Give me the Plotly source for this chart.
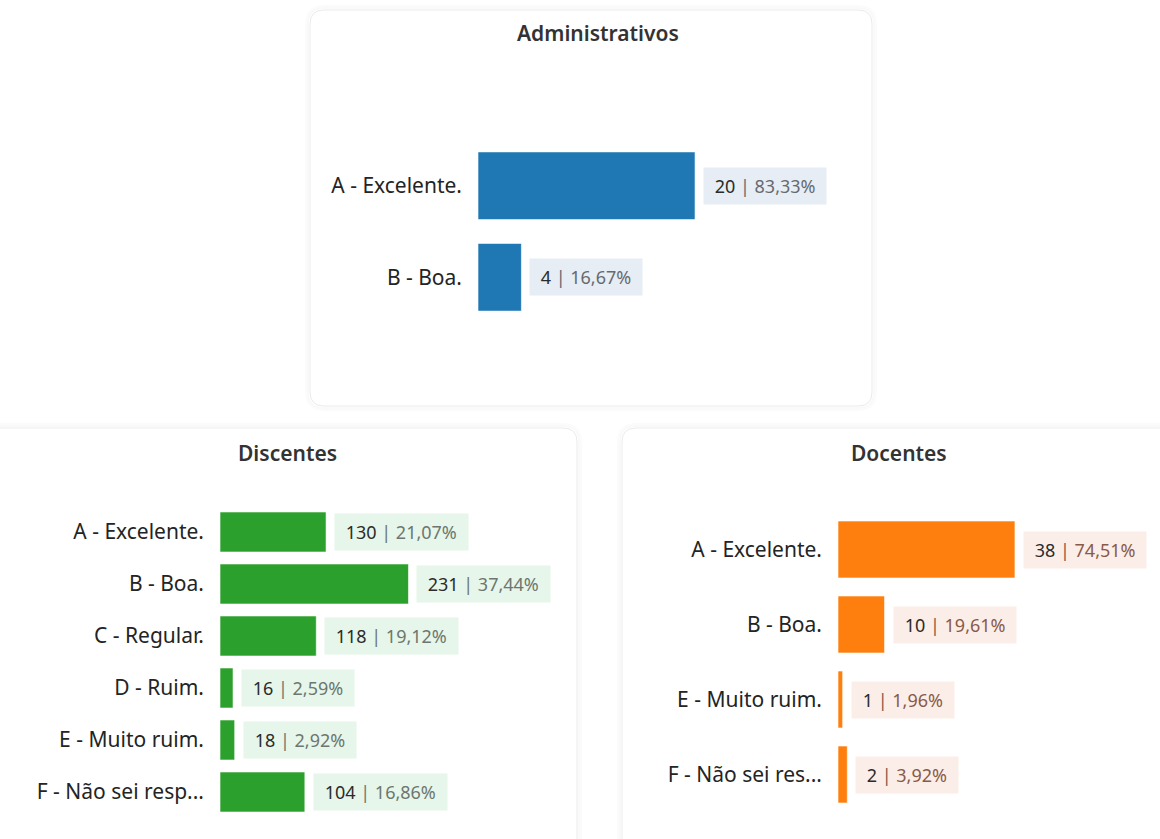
import plotly.graph_objects as go

W, H = 1160, 839
FONT = "Segoe UI, Noto Sans, sans-serif"

# data
admin_labels = ["A - Excelente.", "B - Boa."]
admin_counts = [20, 4]
admin_pcts = [83.33, 16.67]

disc_labels = ["A - Excelente.", "B - Boa.", "C - Regular.", "D - Ruim.", "E - Muito ruim.", "F - Não sei resp..."]
disc_counts = [130, 231, 118, 16, 18, 104]
disc_pcts = [21.07, 37.44, 19.12, 2.59, 2.92, 16.86]

doc_labels = ["A - Excelente.", "B - Boa.", "E - Muito ruim.", "F - Não sei res..."]
doc_counts = [38, 10, 1, 2]
doc_pcts = [74.51, 19.61, 1.96, 3.92]


def px_x(v):
    return v / W


def px_y(v):
    return 1 - v / H


def card_path(x0, y0, x1, y1, r=14):
    # rounded rectangle in paper coords, input in pixels
    X = lambda v: px_x(v)
    Y = lambda v: px_y(v)
    rx, ry = r / W, r / H
    return (
        f"M {X(x0) + rx},{Y(y0)} L {X(x1) - rx},{Y(y0)} Q {X(x1)},{Y(y0)} {X(x1)},{Y(y0) - ry} "
        f"L {X(x1)},{Y(y1) + ry} Q {X(x1)},{Y(y1)} {X(x1) - rx},{Y(y1)} "
        f"L {X(x0) + rx},{Y(y1)} Q {X(x0)},{Y(y1)} {X(x0)},{Y(y1) + ry} "
        f"L {X(x0)},{Y(y0) - ry} Q {X(x0)},{Y(y0)} {X(x0) + rx},{Y(y0)} Z"
    )


panels = [
    dict(name="Administrativos", labels=admin_labels, counts=admin_counts, pcts=admin_pcts,
         color="#1f77b4", box="#e6edf4", pct_color="#666a70", width=0.74,
         xdom=(478, 860), ydom=(140, 323), xmax=35.2, title_xy=(598, 33), ax=""),
    dict(name="Discentes", labels=disc_labels, counts=disc_counts, pcts=disc_pcts,
         color="#2ca02c", box="#e6f6ea", pct_color="#6d7670", width=0.77,
         xdom=(220, 560), ydom=(506, 818), xmax=416.7, title_xy=(287, 453), ax="2"),
    dict(name="Docentes", labels=doc_labels, counts=doc_counts, pcts=doc_pcts,
         color="#ff7f0e", box="#fbeee8", pct_color="#8a5a48", width=0.76,
         xdom=(838, 1150), ydom=(512, 812), xmax=67, title_xy=(899, 453), ax="3"),
]

fig = go.Figure()
annotations = []
layout_axes = {}

for p in panels:
    ax = p["ax"]
    fig.add_trace(go.Bar(
        x=p["counts"], y=p["labels"], orientation="h",
        xaxis="x" + ax, yaxis="y" + ax, width=p["width"],
        marker=dict(color=p["color"], line=dict(color="rgba(255,255,255,0.6)", width=1)),
        hoverinfo="skip", showlegend=False,
    ))
    layout_axes["xaxis" + ax] = dict(
        domain=[px_x(p["xdom"][0]), px_x(p["xdom"][1])], range=[0, p["xmax"]],
        anchor="y" + ax, visible=False, fixedrange=True,
    )
    layout_axes["yaxis" + ax] = dict(
        domain=[px_y(p["ydom"][1]), px_y(p["ydom"][0])], anchor="x" + ax,
        autorange="reversed", showgrid=False, showline=False, zeroline=False,
        ticks="", ticklabelstandoff=15, tickfont=dict(size=21, color="#242424", family=FONT),
        fixedrange=True,
    )
    for lab, c, pc in zip(p["labels"], p["counts"], p["pcts"]):
        pct_txt = f"{pc:.2f}".replace(".", ",") + "%"
        annotations.append(dict(
            x=c, y=lab, xref="x" + ax, yref="y" + ax, xanchor="left", yanchor="middle",
            xshift=8, showarrow=False,
            text=f"&nbsp;<span style='color:#2b2b2b'>{c}</span>"
                 f"<span style='color:{p['pct_color']}'> | {pct_txt}</span>&nbsp;",
            font=dict(size=18, family=FONT), bgcolor=p["box"], borderpad=6,
        ))
    annotations.append(dict(
        x=px_x(p["title_xy"][0]), y=px_y(p["title_xy"][1]), xref="paper", yref="paper",
        xanchor="center", yanchor="middle", showarrow=False, text=p["name"],
        font=dict(size=21, family=FONT, color="#333333", weight=600),
    ))

cards = [(310, 10, 872, 406), (-20, 428, 577, 860), (622, 428, 1190, 860)]
shapes = []
for x0, y0, x1, y1 in cards:
    # soft shadow rings then the card border
    for grow, alpha in ((4, 0.015), (2, 0.025)):
        shapes.append(dict(type="path", xref="paper", yref="paper",
                           path=card_path(x0 - grow, y0 - grow, x1 + grow, y1 + grow, 14 + grow),
                           line=dict(color=f"rgba(0,0,0,{alpha})", width=2),
                           fillcolor="rgba(0,0,0,0)", layer="below"))
    shapes.append(dict(type="path", xref="paper", yref="paper", path=card_path(x0, y0, x1, y1),
                       line=dict(color="#ebebeb", width=1), fillcolor="#ffffff", layer="below"))

fig.update_layout(
    width=W, height=H, margin=dict(l=0, r=0, t=0, b=0),
    paper_bgcolor="#ffffff", plot_bgcolor="rgba(0,0,0,0)",
    font=dict(family=FONT, color="#242424"),
    annotations=annotations, shapes=shapes, **layout_axes,
)

fig.write_html("out.html", config={"displayModeBar": False},
               post_script="document.body.style.margin='0';document.body.style.overflow='hidden';")
